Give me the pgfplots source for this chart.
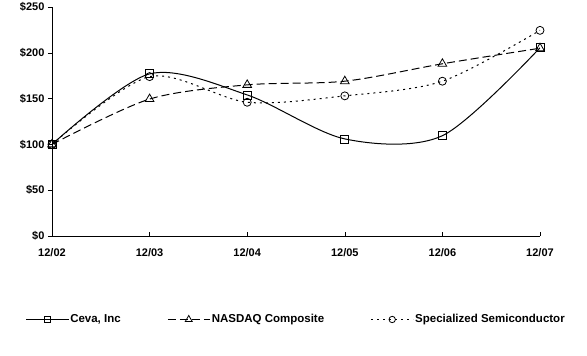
\documentclass[border=0pt]{standalone}
\usepackage{pgfplots}
\pgfplotsset{compat=1.18}
\usepackage{fontspec}
\setmainfont{Liberation Sans}
\begin{document}
\begin{tikzpicture}[x=1pt,y=1pt]
\useasboundingbox (0,0) rectangle (587,356);
\begin{axis}[
  at={(52pt,120pt)}, anchor=south west,
  scale only axis, width=488pt, height=229pt,
  xmin=0, xmax=5, ymin=0, ymax=250,
  axis x line*=bottom, axis y line*=left,
  axis line style={-, line width=0.6pt},
  xtick={0,1,2,3,4,5},
  xticklabels={12/02,12/03,12/04,12/05,12/06,12/07},
  ytick={0,50,100,150,200,250},
  yticklabel={\$\pgfmathprintnumber{\tick}},
  /pgf/number format/assume math mode=true,
  tick align=inside,
  major tick length=4pt,
  major y tick style={xshift=-4pt},
  tick style={black, line width=0.6pt},
  ticklabel style={font=\fontsize{11}{13}\selectfont\bfseries},
  yticklabel style={xshift=-4pt},
  xticklabel style={yshift=-9pt},
  legend columns=3,
  legend style={at={(0.5,-0.3646)}, anchor=center, draw=none, fill=none,
    font=\fontsize{11.5}{13}\selectfont\bfseries,
    nodes={inner sep=1.5pt},
    /tikz/every even column/.append style={column sep=45pt}},
  legend image code/.code={\draw[mark repeat=2,mark phase=2, every mark/.append style={scale=0.8}] plot coordinates {(0pt,0pt) (21pt,0pt) (42pt,0pt)};},
]
\addplot[black, line width=1pt, smooth, mark=square, mark size=4pt, mark options={solid, line width=0.8pt}]
  coordinates {(0,100) (1,177) (2,154) (3,106) (4,109.5) (5,205.5)};
\addlegendentry{Ceva, Inc}
\addplot[black, line width=1pt, smooth, dash pattern=on 8pt off 4pt, mark=triangle, mark size=5pt, mark options={solid, line width=0.8pt}]
  coordinates {(0,100) (1,149.5) (2,165) (3,169) (4,188) (5,205)};
\addlegendentry{NASDAQ Composite}
\addplot[black, line width=1pt, smooth, dash pattern=on 2pt off 4pt, mark=o, mark size=4pt, mark options={solid, line width=0.8pt}]
  coordinates {(0,100) (1,174) (2,146) (3,153) (4,169) (5,224.5)};
\addlegendentry{Specialized Semiconductor}
\end{axis}
\end{tikzpicture}
\end{document}
